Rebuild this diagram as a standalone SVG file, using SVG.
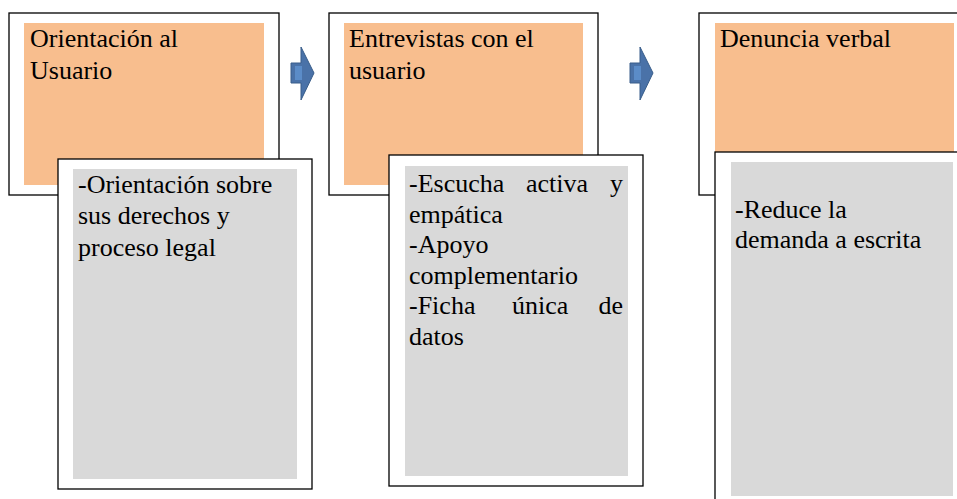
<svg xmlns="http://www.w3.org/2000/svg" width="957" height="499" viewBox="0 0 957 499">
<defs>
<g id="arrowShape">
<polygon points="0,16 10,16 10,0 23,26 10,53 10,36 0,36" fill="#4a72a8" stroke="#385d8a" stroke-width="1"/>
<rect x="4" y="19" width="7" height="14" fill="#5b8cc8"/>
</g>
</defs>
<rect width="957" height="499" fill="#ffffff"/>
<g id="connectors">
<use id="arrow1" href="#arrowShape" x="291" y="47"/>
<use id="arrow2" href="#arrowShape" x="630" y="47"/>
</g>
<g id="step1">
<rect x="9" y="13" width="270" height="182" fill="#ffffff" stroke="#000000" stroke-width="1.3"/>
<rect x="24" y="23" width="240" height="162" fill="#f8be8e"/>
<text x="30" y="47" font-family="serif" font-size="26">Orientación al</text>
<text x="30" y="79" font-family="serif" font-size="26">Usuario</text>
</g>
<g id="detail1">
<rect x="58" y="159" width="254" height="330" fill="#ffffff" stroke="#000000" stroke-width="1.3"/>
<rect x="73" y="169" width="224" height="310" fill="#d9d9d9"/>
<text x="78" y="193" font-family="serif" font-size="26">-Orientación sobre</text>
<text x="78" y="224" font-family="serif" font-size="26">sus derechos y</text>
<text x="78" y="256" font-family="serif" font-size="26">proceso legal</text>
</g>
<g id="step2">
<rect x="329" y="13" width="269" height="182" fill="#ffffff" stroke="#000000" stroke-width="1.3"/>
<rect x="344" y="23" width="239" height="162" fill="#f8be8e"/>
<text x="349" y="47" font-family="serif" font-size="26">Entrevistas con el</text>
<text x="349" y="79" font-family="serif" font-size="26">usuario</text>
</g>
<g id="detail2">
<rect x="389" y="155" width="254" height="331" fill="#ffffff" stroke="#000000" stroke-width="1.3"/>
<rect x="405" y="166" width="223" height="310" fill="#d9d9d9"/>
<text x="409" y="192" font-family="serif" font-size="26">-Escucha</text>
<text x="526" y="192" font-family="serif" font-size="26">activa</text>
<text x="623" y="192" text-anchor="end" font-family="serif" font-size="26">y</text>
<text x="409" y="222.5" font-family="serif" font-size="26">empática</text>
<text x="409" y="253" font-family="serif" font-size="26">-Apoyo</text>
<text x="409" y="283.5" font-family="serif" font-size="26">complementario</text>
<text x="409" y="314" font-family="serif" font-size="26">-Ficha</text>
<text x="512" y="314" font-family="serif" font-size="26">única</text>
<text x="623" y="314" text-anchor="end" font-family="serif" font-size="26">de</text>
<text x="409" y="344.5" font-family="serif" font-size="26">datos</text>
</g>
<g id="step3">
<rect x="699" y="13" width="270" height="182" fill="#ffffff" stroke="#000000" stroke-width="1.3"/>
<rect x="715" y="23" width="239" height="162" fill="#f8be8e"/>
<text x="720" y="47" font-family="serif" font-size="26">Denuncia verbal</text>
</g>
<g id="detail3">
<rect x="715" y="152" width="260" height="360" fill="#ffffff" stroke="#000000" stroke-width="1.3"/>
<rect x="731" y="162" width="222" height="334" fill="#d9d9d9"/>
<text x="735" y="218" font-family="serif" font-size="26">-Reduce la</text>
<text x="735" y="248" font-family="serif" font-size="26">demanda a escrita</text>
</g>
</svg>
